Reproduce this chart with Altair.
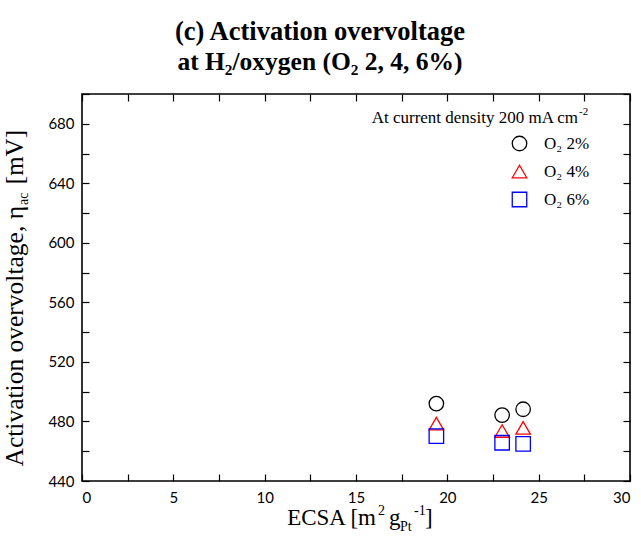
import altair as alt
import pandas as pd

# ---------------- data ----------------
ecsa = [19.4, 23.0, 24.15]
eta_o2_2 = [492.0, 484.3, 488.2]
eta_o2_4 = [478.5, 473.6, 475.7]
eta_o2_6 = [470.2, 465.7, 464.9]
series_names = ["O₂ 2%", "O₂ 4%", "O₂ 6%"]
series_colors = ["#000000", "#ff0000", "#0000ff"]
series_shapes = ["circle", "triangle-up", "square"]

x_major = [0, 5, 10, 15, 20, 25, 30]
x_minor = [0, 2.5, 5, 7.5, 10, 12.5, 15, 17.5, 20, 22.5, 25, 27.5, 30]
y_major = [440, 480, 520, 560, 600, 640, 680]
y_minor = [440, 460, 480, 500, 520, 540, 560, 580, 600, 620, 640, 660, 680, 700]

rows = []
for name, vals in zip(series_names, [eta_o2_2, eta_o2_4, eta_o2_6]):
    for xv, yv in zip(ecsa, vals):
        rows.append({"ecsa": xv, "eta": yv, "series": name})
df = pd.DataFrame(rows)

# ---------------- layout ----------------
W, H = 548, 387
PAD_L, PAD_T = 82, 94
SERIF = "Liberation Serif, Times New Roman, DejaVu Serif, serif"
SANS = "Lato"
TICK_LEN = 7

xs = alt.Scale(domain=[0, 30], nice=False, zero=False)
ys = alt.Scale(domain=[440, 700], nice=False, zero=False)

legend = alt.Legend(
    title=None, orient="none", legendX=429, legendY=41, padding=0,
    labelFont=SERIF, labelFontSize=17, labelColor="black", labelOffset=16,
    symbolSize=210, symbolStrokeWidth=1.3, rowPadding=8, labelLimit=200,
)
color = alt.Color("series:N", scale=alt.Scale(domain=series_names, range=series_colors), legend=legend)
shape = alt.Shape("series:N", scale=alt.Scale(domain=series_names, range=series_shapes), legend=legend)

points = alt.Chart(df).mark_point(filled=False, size=210, strokeWidth=1.3, opacity=1).encode(
    x=alt.X("ecsa:Q", scale=xs, axis=alt.Axis(
        orient="bottom", values=x_major, ticks=False, tickSize=0, domain=False, grid=False,
        labelFont=SANS, labelFontSize=15, labelColor="black", labelPadding=9, title=None, format="d")),
    y=alt.Y("eta:Q", scale=ys, axis=alt.Axis(
        orient="left", values=y_major, ticks=False, tickSize=0, domain=False, grid=False,
        labelFont=SANS, labelFontSize=15, labelColor="black", labelPadding=8, title=None, format="d")),
    color=color,
    shape=shape,
)

def tick_layer(x_orient, x_off, y_orient, y_off):
    return alt.Chart(df).mark_point(opacity=0).encode(
        x=alt.X("ecsa:Q", scale=xs, axis=alt.Axis(
            orient=x_orient, offset=x_off, values=x_minor, labels=False, domain=False, grid=False,
            ticks=True, tickSize=TICK_LEN, tickColor="black", tickWidth=1.2, title=None)),
        y=alt.Y("eta:Q", scale=ys, axis=alt.Axis(
            orient=y_orient, offset=y_off, values=y_minor, labels=False, domain=False, grid=False,
            ticks=True, tickSize=TICK_LEN, tickColor="black", tickWidth=1.2, title=None)),
    )

ticks_a = tick_layer("top", -H, "right", -W)      # bottom & left edges, ticks inward
ticks_b = tick_layer("bottom", -H, "left", -W)    # top & right edges, ticks inward

one = pd.DataFrame({"k": [0]})

def label(text, px, py, size, align="left", weight="normal", angle=0, font=SERIF):
    kw = dict(text=text, align=align, baseline="alphabetic", font=font, fontSize=size,
              fontWeight=weight, color="black")
    if angle:
        kw["angle"] = angle
    return alt.Chart(one).mark_text(**kw).encode(
        x=alt.value(px - PAD_L), y=alt.value(py - PAD_T))

texts = [
    # title
    label("(c) Activation overvoltage", 320, 40, 26.5, align="center", weight="bold"),
    label("at H₂/oxygen (O₂ 2, 4, 6%)", 320, 70, 25.5, align="center", weight="bold"),
    # x-axis title: ECSA [m2 gPt-1]
    label("ECSA [m", 376, 525, 23, align="right"),
    label("2", 378, 515, 14),
    label("g", 389, 525, 23),
    label("Pt", 400, 531, 14),
    label("-1", 414, 515, 14),
    label("]", 425, 525, 23),
    # y-axis title: Activation overvoltage, eta_ac [mV]
    label("Activation overvoltage, η", 23, 206, 25.5, align="right", angle=270),
    label("ac", 28, 205, 14, align="left", angle=270),
    label("[mV]", 23, 130, 25, align="right", angle=270),
    # legend header
    label("At current density 200 mA cm", 578, 123, 17, align="right"),
    label("-2", 579, 115, 11),
]

chart = alt.layer(points, ticks_a, ticks_b, *texts).resolve_axis(
    x="independent", y="independent"
).properties(
    width=W, height=H,
    autosize=alt.AutoSizeParams(type="none"),
    padding={"left": PAD_L, "top": PAD_T, "right": 641 - PAD_L - W, "bottom": 542 - PAD_T - H},
    background="white",
).configure_view(stroke="black", strokeWidth=1.6)

chart.save("out.html", embed_options={"renderer": "svg", "actions": False})
